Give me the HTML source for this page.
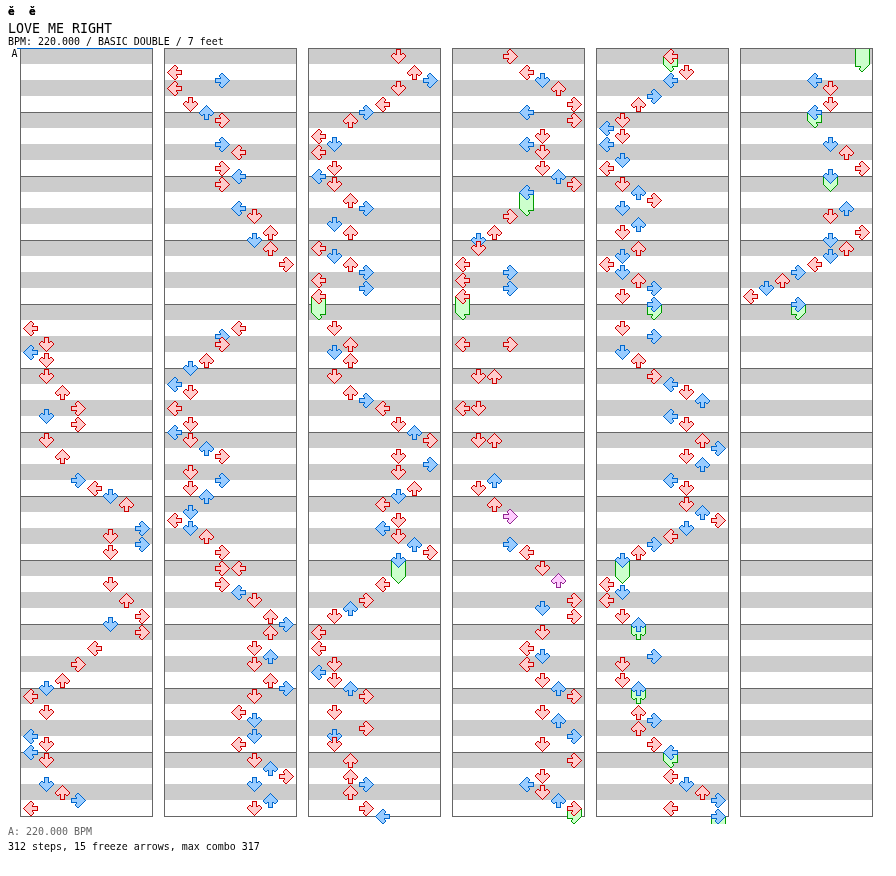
<!DOCTYPE html><html lang="en"><head><meta charset="utf-8"><title>LOVE ME RIGHT</title><style>
html,body{margin:0;padding:0;background:#fff}
body{width:896px;height:876px;position:relative;overflow:hidden;font-family:'DejaVu Sans Mono','Liberation Mono',monospace;color:#000}
.c{position:absolute;top:48px;width:131px;height:767px;border:1px solid #666666;background:linear-gradient(to bottom,#666666 0,#666666 1px,#cccccc 1px,#cccccc 16px,#fff 16px,#fff 32px,#cccccc 32px,#cccccc 48px,#fff 48px,#fff 64px) 0 -1px/100% 64px repeat-y}
.a{position:absolute;width:1px;height:1px}
.R{--o:#cc0000;--f:#ffcccc}
.B{--o:#0066cc;--f:#99ccff}
.P{--o:#922892;--f:#ffccff}
.G{--o:#009900;--f:#ccffcc}
.l{box-shadow:8px 1px var(--o),9px 1px var(--o),7px 2px var(--o),8px 2px var(--f),9px 2px var(--f),10px 2px var(--o),6px 3px var(--o),7px 3px var(--f),8px 3px var(--f),9px 3px var(--f),10px 3px var(--f),11px 3px var(--o),5px 4px var(--o),6px 4px var(--f),7px 4px var(--f),8px 4px var(--f),9px 4px var(--f),10px 4px var(--f),11px 4px var(--o),4px 5px var(--o),5px 5px var(--f),6px 5px var(--f),7px 5px var(--f),8px 5px var(--f),9px 5px var(--f),10px 5px var(--o),3px 6px var(--o),4px 6px var(--f),5px 6px var(--f),6px 6px var(--f),7px 6px var(--f),8px 6px var(--f),9px 6px var(--f),10px 6px var(--o),11px 6px var(--o),12px 6px var(--o),13px 6px var(--o),14px 6px var(--o),15px 6px var(--o),2px 7px var(--o),3px 7px var(--f),4px 7px var(--f),5px 7px var(--f),6px 7px var(--f),7px 7px var(--f),8px 7px var(--f),9px 7px var(--f),10px 7px var(--f),11px 7px var(--f),12px 7px var(--f),13px 7px var(--f),14px 7px var(--f),15px 7px var(--o),1px 8px var(--o),2px 8px var(--f),3px 8px var(--f),4px 8px var(--f),5px 8px var(--f),6px 8px var(--f),7px 8px var(--f),8px 8px var(--f),9px 8px var(--f),10px 8px var(--f),11px 8px var(--f),12px 8px var(--f),13px 8px var(--f),14px 8px var(--f),15px 8px var(--o),2px 9px var(--o),3px 9px var(--f),4px 9px var(--f),5px 9px var(--f),6px 9px var(--f),7px 9px var(--f),8px 9px var(--f),9px 9px var(--f),10px 9px var(--f),11px 9px var(--f),12px 9px var(--f),13px 9px var(--f),14px 9px var(--f),15px 9px var(--o),3px 10px var(--o),4px 10px var(--f),5px 10px var(--f),6px 10px var(--f),7px 10px var(--f),8px 10px var(--f),9px 10px var(--f),10px 10px var(--o),11px 10px var(--o),12px 10px var(--o),13px 10px var(--o),14px 10px var(--o),15px 10px var(--o),4px 11px var(--o),5px 11px var(--f),6px 11px var(--f),7px 11px var(--f),8px 11px var(--f),9px 11px var(--f),10px 11px var(--o),5px 12px var(--o),6px 12px var(--f),7px 12px var(--f),8px 12px var(--f),9px 12px var(--f),10px 12px var(--f),11px 12px var(--o),6px 13px var(--o),7px 13px var(--f),8px 13px var(--f),9px 13px var(--f),10px 13px var(--f),11px 13px var(--o),7px 14px var(--o),8px 14px var(--f),9px 14px var(--f),10px 14px var(--o),8px 15px var(--o),9px 15px var(--o)}
.l.h{box-shadow:2px 9px var(--o),3px 9px var(--f),4px 9px var(--f),5px 9px var(--f),6px 9px var(--f),7px 9px var(--f),8px 9px var(--f),9px 9px var(--f),10px 9px var(--f),11px 9px var(--f),12px 9px var(--f),13px 9px var(--f),14px 9px var(--f),15px 9px var(--o),3px 10px var(--o),4px 10px var(--f),5px 10px var(--f),6px 10px var(--f),7px 10px var(--f),8px 10px var(--f),9px 10px var(--f),10px 10px var(--o),11px 10px var(--o),12px 10px var(--o),13px 10px var(--o),14px 10px var(--o),15px 10px var(--o),4px 11px var(--o),5px 11px var(--f),6px 11px var(--f),7px 11px var(--f),8px 11px var(--f),9px 11px var(--f),10px 11px var(--o),5px 12px var(--o),6px 12px var(--f),7px 12px var(--f),8px 12px var(--f),9px 12px var(--f),10px 12px var(--f),11px 12px var(--o),6px 13px var(--o),7px 13px var(--f),8px 13px var(--f),9px 13px var(--f),10px 13px var(--f),11px 13px var(--o),7px 14px var(--o),8px 14px var(--f),9px 14px var(--f),10px 14px var(--o),8px 15px var(--o),9px 15px var(--o)}
.d{box-shadow:6px 1px var(--o),7px 1px var(--o),8px 1px var(--o),9px 1px var(--o),10px 1px var(--o),6px 2px var(--o),7px 2px var(--f),8px 2px var(--f),9px 2px var(--f),10px 2px var(--o),6px 3px var(--o),7px 3px var(--f),8px 3px var(--f),9px 3px var(--f),10px 3px var(--o),6px 4px var(--o),7px 4px var(--f),8px 4px var(--f),9px 4px var(--f),10px 4px var(--o),3px 5px var(--o),4px 5px var(--o),6px 5px var(--o),7px 5px var(--f),8px 5px var(--f),9px 5px var(--f),10px 5px var(--o),12px 5px var(--o),13px 5px var(--o),2px 6px var(--o),3px 6px var(--f),4px 6px var(--f),5px 6px var(--o),6px 6px var(--o),7px 6px var(--f),8px 6px var(--f),9px 6px var(--f),10px 6px var(--o),11px 6px var(--o),12px 6px var(--f),13px 6px var(--f),14px 6px var(--o),1px 7px var(--o),2px 7px var(--f),3px 7px var(--f),4px 7px var(--f),5px 7px var(--f),6px 7px var(--f),7px 7px var(--f),8px 7px var(--f),9px 7px var(--f),10px 7px var(--f),11px 7px var(--f),12px 7px var(--f),13px 7px var(--f),14px 7px var(--f),15px 7px var(--o),1px 8px var(--o),2px 8px var(--f),3px 8px var(--f),4px 8px var(--f),5px 8px var(--f),6px 8px var(--f),7px 8px var(--f),8px 8px var(--f),9px 8px var(--f),10px 8px var(--f),11px 8px var(--f),12px 8px var(--f),13px 8px var(--f),14px 8px var(--f),15px 8px var(--o),2px 9px var(--o),3px 9px var(--f),4px 9px var(--f),5px 9px var(--f),6px 9px var(--f),7px 9px var(--f),8px 9px var(--f),9px 9px var(--f),10px 9px var(--f),11px 9px var(--f),12px 9px var(--f),13px 9px var(--f),14px 9px var(--o),3px 10px var(--o),4px 10px var(--f),5px 10px var(--f),6px 10px var(--f),7px 10px var(--f),8px 10px var(--f),9px 10px var(--f),10px 10px var(--f),11px 10px var(--f),12px 10px var(--f),13px 10px var(--o),4px 11px var(--o),5px 11px var(--f),6px 11px var(--f),7px 11px var(--f),8px 11px var(--f),9px 11px var(--f),10px 11px var(--f),11px 11px var(--f),12px 11px var(--o),5px 12px var(--o),6px 12px var(--f),7px 12px var(--f),8px 12px var(--f),9px 12px var(--f),10px 12px var(--f),11px 12px var(--o),6px 13px var(--o),7px 13px var(--f),8px 13px var(--f),9px 13px var(--f),10px 13px var(--o),7px 14px var(--o),8px 14px var(--f),9px 14px var(--o),8px 15px var(--o)}
.d.h{box-shadow:2px 9px var(--o),3px 9px var(--f),4px 9px var(--f),5px 9px var(--f),6px 9px var(--f),7px 9px var(--f),8px 9px var(--f),9px 9px var(--f),10px 9px var(--f),11px 9px var(--f),12px 9px var(--f),13px 9px var(--f),14px 9px var(--o),3px 10px var(--o),4px 10px var(--f),5px 10px var(--f),6px 10px var(--f),7px 10px var(--f),8px 10px var(--f),9px 10px var(--f),10px 10px var(--f),11px 10px var(--f),12px 10px var(--f),13px 10px var(--o),4px 11px var(--o),5px 11px var(--f),6px 11px var(--f),7px 11px var(--f),8px 11px var(--f),9px 11px var(--f),10px 11px var(--f),11px 11px var(--f),12px 11px var(--o),5px 12px var(--o),6px 12px var(--f),7px 12px var(--f),8px 12px var(--f),9px 12px var(--f),10px 12px var(--f),11px 12px var(--o),6px 13px var(--o),7px 13px var(--f),8px 13px var(--f),9px 13px var(--f),10px 13px var(--o),7px 14px var(--o),8px 14px var(--f),9px 14px var(--o),8px 15px var(--o)}
.u{box-shadow:8px 1px var(--o),7px 2px var(--o),8px 2px var(--f),9px 2px var(--o),6px 3px var(--o),7px 3px var(--f),8px 3px var(--f),9px 3px var(--f),10px 3px var(--o),5px 4px var(--o),6px 4px var(--f),7px 4px var(--f),8px 4px var(--f),9px 4px var(--f),10px 4px var(--f),11px 4px var(--o),4px 5px var(--o),5px 5px var(--f),6px 5px var(--f),7px 5px var(--f),8px 5px var(--f),9px 5px var(--f),10px 5px var(--f),11px 5px var(--f),12px 5px var(--o),3px 6px var(--o),4px 6px var(--f),5px 6px var(--f),6px 6px var(--f),7px 6px var(--f),8px 6px var(--f),9px 6px var(--f),10px 6px var(--f),11px 6px var(--f),12px 6px var(--f),13px 6px var(--o),2px 7px var(--o),3px 7px var(--f),4px 7px var(--f),5px 7px var(--f),6px 7px var(--f),7px 7px var(--f),8px 7px var(--f),9px 7px var(--f),10px 7px var(--f),11px 7px var(--f),12px 7px var(--f),13px 7px var(--f),14px 7px var(--o),1px 8px var(--o),2px 8px var(--f),3px 8px var(--f),4px 8px var(--f),5px 8px var(--f),6px 8px var(--f),7px 8px var(--f),8px 8px var(--f),9px 8px var(--f),10px 8px var(--f),11px 8px var(--f),12px 8px var(--f),13px 8px var(--f),14px 8px var(--f),15px 8px var(--o),1px 9px var(--o),2px 9px var(--f),3px 9px var(--f),4px 9px var(--f),5px 9px var(--f),6px 9px var(--f),7px 9px var(--f),8px 9px var(--f),9px 9px var(--f),10px 9px var(--f),11px 9px var(--f),12px 9px var(--f),13px 9px var(--f),14px 9px var(--f),15px 9px var(--o),2px 10px var(--o),3px 10px var(--f),4px 10px var(--f),5px 10px var(--o),6px 10px var(--o),7px 10px var(--f),8px 10px var(--f),9px 10px var(--f),10px 10px var(--o),11px 10px var(--o),12px 10px var(--f),13px 10px var(--f),14px 10px var(--o),3px 11px var(--o),4px 11px var(--o),6px 11px var(--o),7px 11px var(--f),8px 11px var(--f),9px 11px var(--f),10px 11px var(--o),12px 11px var(--o),13px 11px var(--o),6px 12px var(--o),7px 12px var(--f),8px 12px var(--f),9px 12px var(--f),10px 12px var(--o),6px 13px var(--o),7px 13px var(--f),8px 13px var(--f),9px 13px var(--f),10px 13px var(--o),6px 14px var(--o),7px 14px var(--f),8px 14px var(--f),9px 14px var(--f),10px 14px var(--o),6px 15px var(--o),7px 15px var(--o),8px 15px var(--o),9px 15px var(--o),10px 15px var(--o)}
.u.h{box-shadow:1px 9px var(--o),2px 9px var(--f),3px 9px var(--f),4px 9px var(--f),5px 9px var(--f),6px 9px var(--f),7px 9px var(--f),8px 9px var(--f),9px 9px var(--f),10px 9px var(--f),11px 9px var(--f),12px 9px var(--f),13px 9px var(--f),14px 9px var(--f),15px 9px var(--o),2px 10px var(--o),3px 10px var(--f),4px 10px var(--f),5px 10px var(--o),6px 10px var(--o),7px 10px var(--f),8px 10px var(--f),9px 10px var(--f),10px 10px var(--o),11px 10px var(--o),12px 10px var(--f),13px 10px var(--f),14px 10px var(--o),3px 11px var(--o),4px 11px var(--o),6px 11px var(--o),7px 11px var(--f),8px 11px var(--f),9px 11px var(--f),10px 11px var(--o),12px 11px var(--o),13px 11px var(--o),6px 12px var(--o),7px 12px var(--f),8px 12px var(--f),9px 12px var(--f),10px 12px var(--o),6px 13px var(--o),7px 13px var(--f),8px 13px var(--f),9px 13px var(--f),10px 13px var(--o),6px 14px var(--o),7px 14px var(--f),8px 14px var(--f),9px 14px var(--f),10px 14px var(--o),6px 15px var(--o),7px 15px var(--o),8px 15px var(--o),9px 15px var(--o),10px 15px var(--o)}
.r{box-shadow:7px 1px var(--o),8px 1px var(--o),6px 2px var(--o),7px 2px var(--f),8px 2px var(--f),9px 2px var(--o),5px 3px var(--o),6px 3px var(--f),7px 3px var(--f),8px 3px var(--f),9px 3px var(--f),10px 3px var(--o),5px 4px var(--o),6px 4px var(--f),7px 4px var(--f),8px 4px var(--f),9px 4px var(--f),10px 4px var(--f),11px 4px var(--o),6px 5px var(--o),7px 5px var(--f),8px 5px var(--f),9px 5px var(--f),10px 5px var(--f),11px 5px var(--f),12px 5px var(--o),1px 6px var(--o),2px 6px var(--o),3px 6px var(--o),4px 6px var(--o),5px 6px var(--o),6px 6px var(--o),7px 6px var(--f),8px 6px var(--f),9px 6px var(--f),10px 6px var(--f),11px 6px var(--f),12px 6px var(--f),13px 6px var(--o),1px 7px var(--o),2px 7px var(--f),3px 7px var(--f),4px 7px var(--f),5px 7px var(--f),6px 7px var(--f),7px 7px var(--f),8px 7px var(--f),9px 7px var(--f),10px 7px var(--f),11px 7px var(--f),12px 7px var(--f),13px 7px var(--f),14px 7px var(--o),1px 8px var(--o),2px 8px var(--f),3px 8px var(--f),4px 8px var(--f),5px 8px var(--f),6px 8px var(--f),7px 8px var(--f),8px 8px var(--f),9px 8px var(--f),10px 8px var(--f),11px 8px var(--f),12px 8px var(--f),13px 8px var(--f),14px 8px var(--f),15px 8px var(--o),1px 9px var(--o),2px 9px var(--f),3px 9px var(--f),4px 9px var(--f),5px 9px var(--f),6px 9px var(--f),7px 9px var(--f),8px 9px var(--f),9px 9px var(--f),10px 9px var(--f),11px 9px var(--f),12px 9px var(--f),13px 9px var(--f),14px 9px var(--o),1px 10px var(--o),2px 10px var(--o),3px 10px var(--o),4px 10px var(--o),5px 10px var(--o),6px 10px var(--o),7px 10px var(--f),8px 10px var(--f),9px 10px var(--f),10px 10px var(--f),11px 10px var(--f),12px 10px var(--f),13px 10px var(--o),6px 11px var(--o),7px 11px var(--f),8px 11px var(--f),9px 11px var(--f),10px 11px var(--f),11px 11px var(--f),12px 11px var(--o),5px 12px var(--o),6px 12px var(--f),7px 12px var(--f),8px 12px var(--f),9px 12px var(--f),10px 12px var(--f),11px 12px var(--o),5px 13px var(--o),6px 13px var(--f),7px 13px var(--f),8px 13px var(--f),9px 13px var(--f),10px 13px var(--o),6px 14px var(--o),7px 14px var(--f),8px 14px var(--f),9px 14px var(--o),7px 15px var(--o),8px 15px var(--o)}
.r.h{box-shadow:1px 9px var(--o),2px 9px var(--f),3px 9px var(--f),4px 9px var(--f),5px 9px var(--f),6px 9px var(--f),7px 9px var(--f),8px 9px var(--f),9px 9px var(--f),10px 9px var(--f),11px 9px var(--f),12px 9px var(--f),13px 9px var(--f),14px 9px var(--o),1px 10px var(--o),2px 10px var(--o),3px 10px var(--o),4px 10px var(--o),5px 10px var(--o),6px 10px var(--o),7px 10px var(--f),8px 10px var(--f),9px 10px var(--f),10px 10px var(--f),11px 10px var(--f),12px 10px var(--f),13px 10px var(--o),6px 11px var(--o),7px 11px var(--f),8px 11px var(--f),9px 11px var(--f),10px 11px var(--f),11px 11px var(--f),12px 11px var(--o),5px 12px var(--o),6px 12px var(--f),7px 12px var(--f),8px 12px var(--f),9px 12px var(--f),10px 12px var(--f),11px 12px var(--o),5px 13px var(--o),6px 13px var(--f),7px 13px var(--f),8px 13px var(--f),9px 13px var(--f),10px 13px var(--o),6px 14px var(--o),7px 14px var(--f),8px 14px var(--f),9px 14px var(--o),7px 15px var(--o),8px 15px var(--o)}
.b{position:absolute;width:13px;border-left:1px solid #009900;border-right:1px solid #009900;background:#ccffcc}
.t{position:absolute;white-space:pre;line-height:1;transform-origin:0 0}
</style></head><body>
<div class="t" style="left:8px;top:6px;font-size:11px;letter-spacing:0.378px;font-weight:bold;text-shadow:0 0 0 #000">ě  ě</div>
<div class="t" style="left:8px;top:22px;font-size:13.29px">LOVE ME RIGHT</div>
<div class="t" style="left:8px;top:37px;font-size:9.967px">BPM: 220.000 / BASIC DOUBLE / 7 feet</div>
<div class="t" style="left:11.5px;top:49px;font-size:9.967px">A</div>
<div class="t" style="left:8px;top:827px;font-size:9.967px;color:#666">A: 220.000 BPM</div>
<div class="t" style="left:8px;top:842px;font-size:9.967px">312 steps, 15 freeze arrows, max combo 317</div>

<div class="c" style="left:20px"></div>
<div class="c" style="left:164px"></div>
<div class="c" style="left:308px"></div>
<div class="c" style="left:452px"></div>
<div class="c" style="left:596px"></div>
<div class="c" style="left:740px"></div>
<div style="position:absolute;left:17px;top:48px;width:136px;height:1px;background:#0066cc"></div>
<i class="a R l" style="left:22px;top:320px"></i>
<i class="a R d" style="left:38px;top:336px"></i>
<i class="a B l" style="left:22px;top:344px"></i>
<i class="a R d" style="left:38px;top:352px"></i>
<i class="a R d" style="left:38px;top:368px"></i>
<i class="a R u" style="left:54px;top:384px"></i>
<i class="a R r" style="left:70px;top:400px"></i>
<i class="a B d" style="left:38px;top:408px"></i>
<i class="a R r" style="left:70px;top:416px"></i>
<i class="a R d" style="left:38px;top:432px"></i>
<i class="a R u" style="left:54px;top:448px"></i>
<i class="a B r" style="left:70px;top:472px"></i>
<i class="a R l" style="left:86px;top:480px"></i>
<i class="a B d" style="left:102px;top:488px"></i>
<i class="a R u" style="left:118px;top:496px"></i>
<i class="a B r" style="left:134px;top:520px"></i>
<i class="a R d" style="left:102px;top:528px"></i>
<i class="a B r" style="left:134px;top:536px"></i>
<i class="a R d" style="left:102px;top:544px"></i>
<i class="a R d" style="left:102px;top:576px"></i>
<i class="a R u" style="left:118px;top:592px"></i>
<i class="a R r" style="left:134px;top:608px"></i>
<i class="a B d" style="left:102px;top:616px"></i>
<i class="a R r" style="left:134px;top:624px"></i>
<i class="a R l" style="left:86px;top:640px"></i>
<i class="a R r" style="left:70px;top:656px"></i>
<i class="a R u" style="left:54px;top:672px"></i>
<i class="a B d" style="left:38px;top:680px"></i>
<i class="a R l" style="left:22px;top:688px"></i>
<i class="a R d" style="left:38px;top:704px"></i>
<i class="a B l" style="left:22px;top:728px"></i>
<i class="a R d" style="left:38px;top:736px"></i>
<i class="a B l" style="left:22px;top:744px"></i>
<i class="a R d" style="left:38px;top:752px"></i>
<i class="a B d" style="left:38px;top:776px"></i>
<i class="a R u" style="left:54px;top:784px"></i>
<i class="a B r" style="left:70px;top:792px"></i>
<i class="a R l" style="left:22px;top:800px"></i>
<i class="a R l" style="left:166px;top:64px"></i>
<i class="a B r" style="left:214px;top:72px"></i>
<i class="a R l" style="left:166px;top:80px"></i>
<i class="a R d" style="left:182px;top:96px"></i>
<i class="a B u" style="left:198px;top:104px"></i>
<i class="a R r" style="left:214px;top:112px"></i>
<i class="a B r" style="left:214px;top:136px"></i>
<i class="a R l" style="left:230px;top:144px"></i>
<i class="a R r" style="left:214px;top:160px"></i>
<i class="a B l" style="left:230px;top:168px"></i>
<i class="a R r" style="left:214px;top:176px"></i>
<i class="a B l" style="left:230px;top:200px"></i>
<i class="a R d" style="left:246px;top:208px"></i>
<i class="a R u" style="left:262px;top:224px"></i>
<i class="a B d" style="left:246px;top:232px"></i>
<i class="a R u" style="left:262px;top:240px"></i>
<i class="a R r" style="left:278px;top:256px"></i>
<i class="a R l" style="left:230px;top:320px"></i>
<i class="a B r" style="left:214px;top:328px"></i>
<i class="a R r" style="left:214px;top:336px"></i>
<i class="a R u" style="left:198px;top:352px"></i>
<i class="a B d" style="left:182px;top:360px"></i>
<i class="a B l" style="left:166px;top:376px"></i>
<i class="a R d" style="left:182px;top:384px"></i>
<i class="a R l" style="left:166px;top:400px"></i>
<i class="a R d" style="left:182px;top:416px"></i>
<i class="a B l" style="left:166px;top:424px"></i>
<i class="a R d" style="left:182px;top:432px"></i>
<i class="a B u" style="left:198px;top:440px"></i>
<i class="a R r" style="left:214px;top:448px"></i>
<i class="a R d" style="left:182px;top:464px"></i>
<i class="a B r" style="left:214px;top:472px"></i>
<i class="a R d" style="left:182px;top:480px"></i>
<i class="a B u" style="left:198px;top:488px"></i>
<i class="a B d" style="left:182px;top:504px"></i>
<i class="a R l" style="left:166px;top:512px"></i>
<i class="a B d" style="left:182px;top:520px"></i>
<i class="a R u" style="left:198px;top:528px"></i>
<i class="a R r" style="left:214px;top:544px"></i>
<i class="a R r" style="left:214px;top:560px"></i>
<i class="a R l" style="left:230px;top:560px"></i>
<i class="a R r" style="left:214px;top:576px"></i>
<i class="a B l" style="left:230px;top:584px"></i>
<i class="a R d" style="left:246px;top:592px"></i>
<i class="a R u" style="left:262px;top:608px"></i>
<i class="a B r" style="left:278px;top:616px"></i>
<i class="a R u" style="left:262px;top:624px"></i>
<i class="a R d" style="left:246px;top:640px"></i>
<i class="a B u" style="left:262px;top:648px"></i>
<i class="a R d" style="left:246px;top:656px"></i>
<i class="a R u" style="left:262px;top:672px"></i>
<i class="a B r" style="left:278px;top:680px"></i>
<i class="a R d" style="left:246px;top:688px"></i>
<i class="a R l" style="left:230px;top:704px"></i>
<i class="a B d" style="left:246px;top:712px"></i>
<i class="a B d" style="left:246px;top:728px"></i>
<i class="a R l" style="left:230px;top:736px"></i>
<i class="a R d" style="left:246px;top:752px"></i>
<i class="a B u" style="left:262px;top:760px"></i>
<i class="a R r" style="left:278px;top:768px"></i>
<i class="a B d" style="left:246px;top:776px"></i>
<i class="a B u" style="left:262px;top:792px"></i>
<i class="a R d" style="left:246px;top:800px"></i>
<i class="a R d" style="left:390px;top:48px"></i>
<i class="a R u" style="left:406px;top:64px"></i>
<i class="a B r" style="left:422px;top:72px"></i>
<i class="a R d" style="left:390px;top:80px"></i>
<i class="a R l" style="left:374px;top:96px"></i>
<i class="a B r" style="left:358px;top:104px"></i>
<i class="a R u" style="left:342px;top:112px"></i>
<i class="a R l" style="left:310px;top:128px"></i>
<i class="a B d" style="left:326px;top:136px"></i>
<i class="a R l" style="left:310px;top:144px"></i>
<i class="a R d" style="left:326px;top:160px"></i>
<i class="a B l" style="left:310px;top:168px"></i>
<i class="a R d" style="left:326px;top:176px"></i>
<i class="a R u" style="left:342px;top:192px"></i>
<i class="a B r" style="left:358px;top:200px"></i>
<i class="a B d" style="left:326px;top:216px"></i>
<i class="a R u" style="left:342px;top:224px"></i>
<i class="a R l" style="left:310px;top:240px"></i>
<i class="a B d" style="left:326px;top:248px"></i>
<i class="a R u" style="left:342px;top:256px"></i>
<i class="a B r" style="left:358px;top:264px"></i>
<i class="a R l" style="left:310px;top:272px"></i>
<i class="a B r" style="left:358px;top:280px"></i>
<i class="a G l h" style="left:310px;top:304px"></i>
<i class="b" style="left:311px;top:296px;height:17px"></i>
<i class="a R l" style="left:310px;top:288px"></i>
<i class="a R d" style="left:326px;top:320px"></i>
<i class="a R u" style="left:342px;top:336px"></i>
<i class="a B d" style="left:326px;top:344px"></i>
<i class="a R u" style="left:342px;top:352px"></i>
<i class="a R d" style="left:326px;top:368px"></i>
<i class="a R u" style="left:342px;top:384px"></i>
<i class="a B r" style="left:358px;top:392px"></i>
<i class="a R l" style="left:374px;top:400px"></i>
<i class="a R d" style="left:390px;top:416px"></i>
<i class="a B u" style="left:406px;top:424px"></i>
<i class="a R r" style="left:422px;top:432px"></i>
<i class="a R d" style="left:390px;top:448px"></i>
<i class="a B r" style="left:422px;top:456px"></i>
<i class="a R d" style="left:390px;top:464px"></i>
<i class="a R u" style="left:406px;top:480px"></i>
<i class="a B d" style="left:390px;top:488px"></i>
<i class="a R l" style="left:374px;top:496px"></i>
<i class="a R d" style="left:390px;top:512px"></i>
<i class="a B l" style="left:374px;top:520px"></i>
<i class="a R d" style="left:390px;top:528px"></i>
<i class="a B u" style="left:406px;top:536px"></i>
<i class="a R r" style="left:422px;top:544px"></i>
<i class="a G d h" style="left:390px;top:568px"></i>
<i class="b" style="left:391px;top:560px;height:17px"></i>
<i class="a B d" style="left:390px;top:552px"></i>
<i class="a R l" style="left:374px;top:576px"></i>
<i class="a R r" style="left:358px;top:592px"></i>
<i class="a B u" style="left:342px;top:600px"></i>
<i class="a R d" style="left:326px;top:608px"></i>
<i class="a R l" style="left:310px;top:624px"></i>
<i class="a R l" style="left:310px;top:640px"></i>
<i class="a R d" style="left:326px;top:656px"></i>
<i class="a B l" style="left:310px;top:664px"></i>
<i class="a R d" style="left:326px;top:672px"></i>
<i class="a B u" style="left:342px;top:680px"></i>
<i class="a R r" style="left:358px;top:688px"></i>
<i class="a R d" style="left:326px;top:704px"></i>
<i class="a R r" style="left:358px;top:720px"></i>
<i class="a B d" style="left:326px;top:728px"></i>
<i class="a R d" style="left:326px;top:736px"></i>
<i class="a R u" style="left:342px;top:752px"></i>
<i class="a R u" style="left:342px;top:768px"></i>
<i class="a B r" style="left:358px;top:776px"></i>
<i class="a R u" style="left:342px;top:784px"></i>
<i class="a R r" style="left:358px;top:800px"></i>
<i class="a B l" style="left:374px;top:808px"></i>
<i class="a R r" style="left:502px;top:48px"></i>
<i class="a R l" style="left:518px;top:64px"></i>
<i class="a B d" style="left:534px;top:72px"></i>
<i class="a R u" style="left:550px;top:80px"></i>
<i class="a R r" style="left:566px;top:96px"></i>
<i class="a B l" style="left:518px;top:104px"></i>
<i class="a R r" style="left:566px;top:112px"></i>
<i class="a R d" style="left:534px;top:128px"></i>
<i class="a B l" style="left:518px;top:136px"></i>
<i class="a R d" style="left:534px;top:144px"></i>
<i class="a R d" style="left:534px;top:160px"></i>
<i class="a B u" style="left:550px;top:168px"></i>
<i class="a R r" style="left:566px;top:176px"></i>
<i class="a G l h" style="left:518px;top:200px"></i>
<i class="b" style="left:519px;top:192px;height:17px"></i>
<i class="a B l" style="left:518px;top:184px"></i>
<i class="a R r" style="left:502px;top:208px"></i>
<i class="a R u" style="left:486px;top:224px"></i>
<i class="a B d" style="left:470px;top:232px"></i>
<i class="a R d" style="left:470px;top:240px"></i>
<i class="a R l" style="left:454px;top:256px"></i>
<i class="a B r" style="left:502px;top:264px"></i>
<i class="a R l" style="left:454px;top:272px"></i>
<i class="a B r" style="left:502px;top:280px"></i>
<i class="a G l h" style="left:454px;top:304px"></i>
<i class="b" style="left:455px;top:296px;height:17px"></i>
<i class="a R l" style="left:454px;top:288px"></i>
<i class="a R l" style="left:454px;top:336px"></i>
<i class="a R r" style="left:502px;top:336px"></i>
<i class="a R d" style="left:470px;top:368px"></i>
<i class="a R u" style="left:486px;top:368px"></i>
<i class="a R l" style="left:454px;top:400px"></i>
<i class="a R d" style="left:470px;top:400px"></i>
<i class="a R d" style="left:470px;top:432px"></i>
<i class="a R u" style="left:486px;top:432px"></i>
<i class="a B u" style="left:486px;top:472px"></i>
<i class="a R d" style="left:470px;top:480px"></i>
<i class="a R u" style="left:486px;top:496px"></i>
<i class="a P r" style="left:502px;top:508px"></i>
<i class="a B r" style="left:502px;top:536px"></i>
<i class="a R l" style="left:518px;top:544px"></i>
<i class="a R d" style="left:534px;top:560px"></i>
<i class="a P u" style="left:550px;top:572px"></i>
<i class="a R r" style="left:566px;top:592px"></i>
<i class="a B d" style="left:534px;top:600px"></i>
<i class="a R r" style="left:566px;top:608px"></i>
<i class="a R d" style="left:534px;top:624px"></i>
<i class="a R l" style="left:518px;top:640px"></i>
<i class="a B d" style="left:534px;top:648px"></i>
<i class="a R l" style="left:518px;top:656px"></i>
<i class="a R d" style="left:534px;top:672px"></i>
<i class="a B u" style="left:550px;top:680px"></i>
<i class="a R r" style="left:566px;top:688px"></i>
<i class="a R d" style="left:534px;top:704px"></i>
<i class="a B u" style="left:550px;top:712px"></i>
<i class="a B r" style="left:566px;top:728px"></i>
<i class="a R d" style="left:534px;top:736px"></i>
<i class="a R r" style="left:566px;top:752px"></i>
<i class="a R d" style="left:534px;top:768px"></i>
<i class="a B l" style="left:518px;top:776px"></i>
<i class="a R d" style="left:534px;top:784px"></i>
<i class="a B u" style="left:550px;top:792px"></i>
<i class="a G r h" style="left:566px;top:808px"></i>
<i class="b" style="left:567px;top:808px;height:9px"></i>
<i class="a R r" style="left:566px;top:800px"></i>
<i class="a G l h" style="left:662px;top:56px"></i>
<i class="b" style="left:663px;top:56px;height:9px"></i>
<i class="a R l" style="left:662px;top:48px"></i>
<i class="a R d" style="left:678px;top:64px"></i>
<i class="a B l" style="left:662px;top:72px"></i>
<i class="a B r" style="left:646px;top:88px"></i>
<i class="a R u" style="left:630px;top:96px"></i>
<i class="a R d" style="left:614px;top:112px"></i>
<i class="a B l" style="left:598px;top:120px"></i>
<i class="a R d" style="left:614px;top:128px"></i>
<i class="a B l" style="left:598px;top:136px"></i>
<i class="a B d" style="left:614px;top:152px"></i>
<i class="a R l" style="left:598px;top:160px"></i>
<i class="a R d" style="left:614px;top:176px"></i>
<i class="a B u" style="left:630px;top:184px"></i>
<i class="a R r" style="left:646px;top:192px"></i>
<i class="a B d" style="left:614px;top:200px"></i>
<i class="a B u" style="left:630px;top:216px"></i>
<i class="a R d" style="left:614px;top:224px"></i>
<i class="a R u" style="left:630px;top:240px"></i>
<i class="a B d" style="left:614px;top:248px"></i>
<i class="a R l" style="left:598px;top:256px"></i>
<i class="a B d" style="left:614px;top:264px"></i>
<i class="a R u" style="left:630px;top:272px"></i>
<i class="a B r" style="left:646px;top:280px"></i>
<i class="a R d" style="left:614px;top:288px"></i>
<i class="a G r h" style="left:646px;top:304px"></i>
<i class="b" style="left:647px;top:304px;height:9px"></i>
<i class="a B r" style="left:646px;top:296px"></i>
<i class="a R d" style="left:614px;top:320px"></i>
<i class="a B r" style="left:646px;top:328px"></i>
<i class="a B d" style="left:614px;top:344px"></i>
<i class="a R u" style="left:630px;top:352px"></i>
<i class="a R r" style="left:646px;top:368px"></i>
<i class="a B l" style="left:662px;top:376px"></i>
<i class="a R d" style="left:678px;top:384px"></i>
<i class="a B u" style="left:694px;top:392px"></i>
<i class="a B l" style="left:662px;top:408px"></i>
<i class="a R d" style="left:678px;top:416px"></i>
<i class="a R u" style="left:694px;top:432px"></i>
<i class="a B r" style="left:710px;top:440px"></i>
<i class="a R d" style="left:678px;top:448px"></i>
<i class="a B u" style="left:694px;top:456px"></i>
<i class="a B l" style="left:662px;top:472px"></i>
<i class="a R d" style="left:678px;top:480px"></i>
<i class="a R d" style="left:678px;top:496px"></i>
<i class="a B u" style="left:694px;top:504px"></i>
<i class="a R r" style="left:710px;top:512px"></i>
<i class="a B d" style="left:678px;top:520px"></i>
<i class="a R l" style="left:662px;top:528px"></i>
<i class="a B r" style="left:646px;top:536px"></i>
<i class="a R u" style="left:630px;top:544px"></i>
<i class="a G d h" style="left:614px;top:568px"></i>
<i class="b" style="left:615px;top:560px;height:17px"></i>
<i class="a B d" style="left:614px;top:552px"></i>
<i class="a R l" style="left:598px;top:576px"></i>
<i class="a B d" style="left:614px;top:584px"></i>
<i class="a R l" style="left:598px;top:592px"></i>
<i class="a R d" style="left:614px;top:608px"></i>
<i class="a G u h" style="left:630px;top:624px"></i>
<i class="b" style="left:631px;top:624px;height:9px"></i>
<i class="a B u" style="left:630px;top:616px"></i>
<i class="a B r" style="left:646px;top:648px"></i>
<i class="a R d" style="left:614px;top:656px"></i>
<i class="a R d" style="left:614px;top:672px"></i>
<i class="a G u h" style="left:630px;top:688px"></i>
<i class="b" style="left:631px;top:688px;height:9px"></i>
<i class="a B u" style="left:630px;top:680px"></i>
<i class="a R u" style="left:630px;top:704px"></i>
<i class="a B r" style="left:646px;top:712px"></i>
<i class="a R u" style="left:630px;top:720px"></i>
<i class="a R r" style="left:646px;top:736px"></i>
<i class="a G l h" style="left:662px;top:752px"></i>
<i class="b" style="left:663px;top:752px;height:9px"></i>
<i class="a B l" style="left:662px;top:744px"></i>
<i class="a R l" style="left:662px;top:768px"></i>
<i class="a B d" style="left:678px;top:776px"></i>
<i class="a R u" style="left:694px;top:784px"></i>
<i class="a B r" style="left:710px;top:792px"></i>
<i class="a R l" style="left:662px;top:800px"></i>
<i class="b" style="left:711px;top:816px;height:8px"></i>
<i class="a B r" style="left:710px;top:808px"></i>
<i class="a G r h" style="left:854px;top:56px"></i>
<i class="b" style="left:855px;top:49px;height:16px"></i>
<i class="a B l" style="left:806px;top:72px"></i>
<i class="a R d" style="left:822px;top:80px"></i>
<i class="a R d" style="left:822px;top:96px"></i>
<i class="a G l h" style="left:806px;top:112px"></i>
<i class="b" style="left:807px;top:112px;height:9px"></i>
<i class="a B l" style="left:806px;top:104px"></i>
<i class="a B d" style="left:822px;top:136px"></i>
<i class="a R u" style="left:838px;top:144px"></i>
<i class="a R r" style="left:854px;top:160px"></i>
<i class="a G d h" style="left:822px;top:176px"></i>
<i class="b" style="left:823px;top:176px;height:9px"></i>
<i class="a B d" style="left:822px;top:168px"></i>
<i class="a B u" style="left:838px;top:200px"></i>
<i class="a R d" style="left:822px;top:208px"></i>
<i class="a R r" style="left:854px;top:224px"></i>
<i class="a B d" style="left:822px;top:232px"></i>
<i class="a R u" style="left:838px;top:240px"></i>
<i class="a B d" style="left:822px;top:248px"></i>
<i class="a R l" style="left:806px;top:256px"></i>
<i class="a B r" style="left:790px;top:264px"></i>
<i class="a R u" style="left:774px;top:272px"></i>
<i class="a B d" style="left:758px;top:280px"></i>
<i class="a R l" style="left:742px;top:288px"></i>
<i class="a G r h" style="left:790px;top:304px"></i>
<i class="b" style="left:791px;top:304px;height:9px"></i>
<i class="a B r" style="left:790px;top:296px"></i>
</body></html>
